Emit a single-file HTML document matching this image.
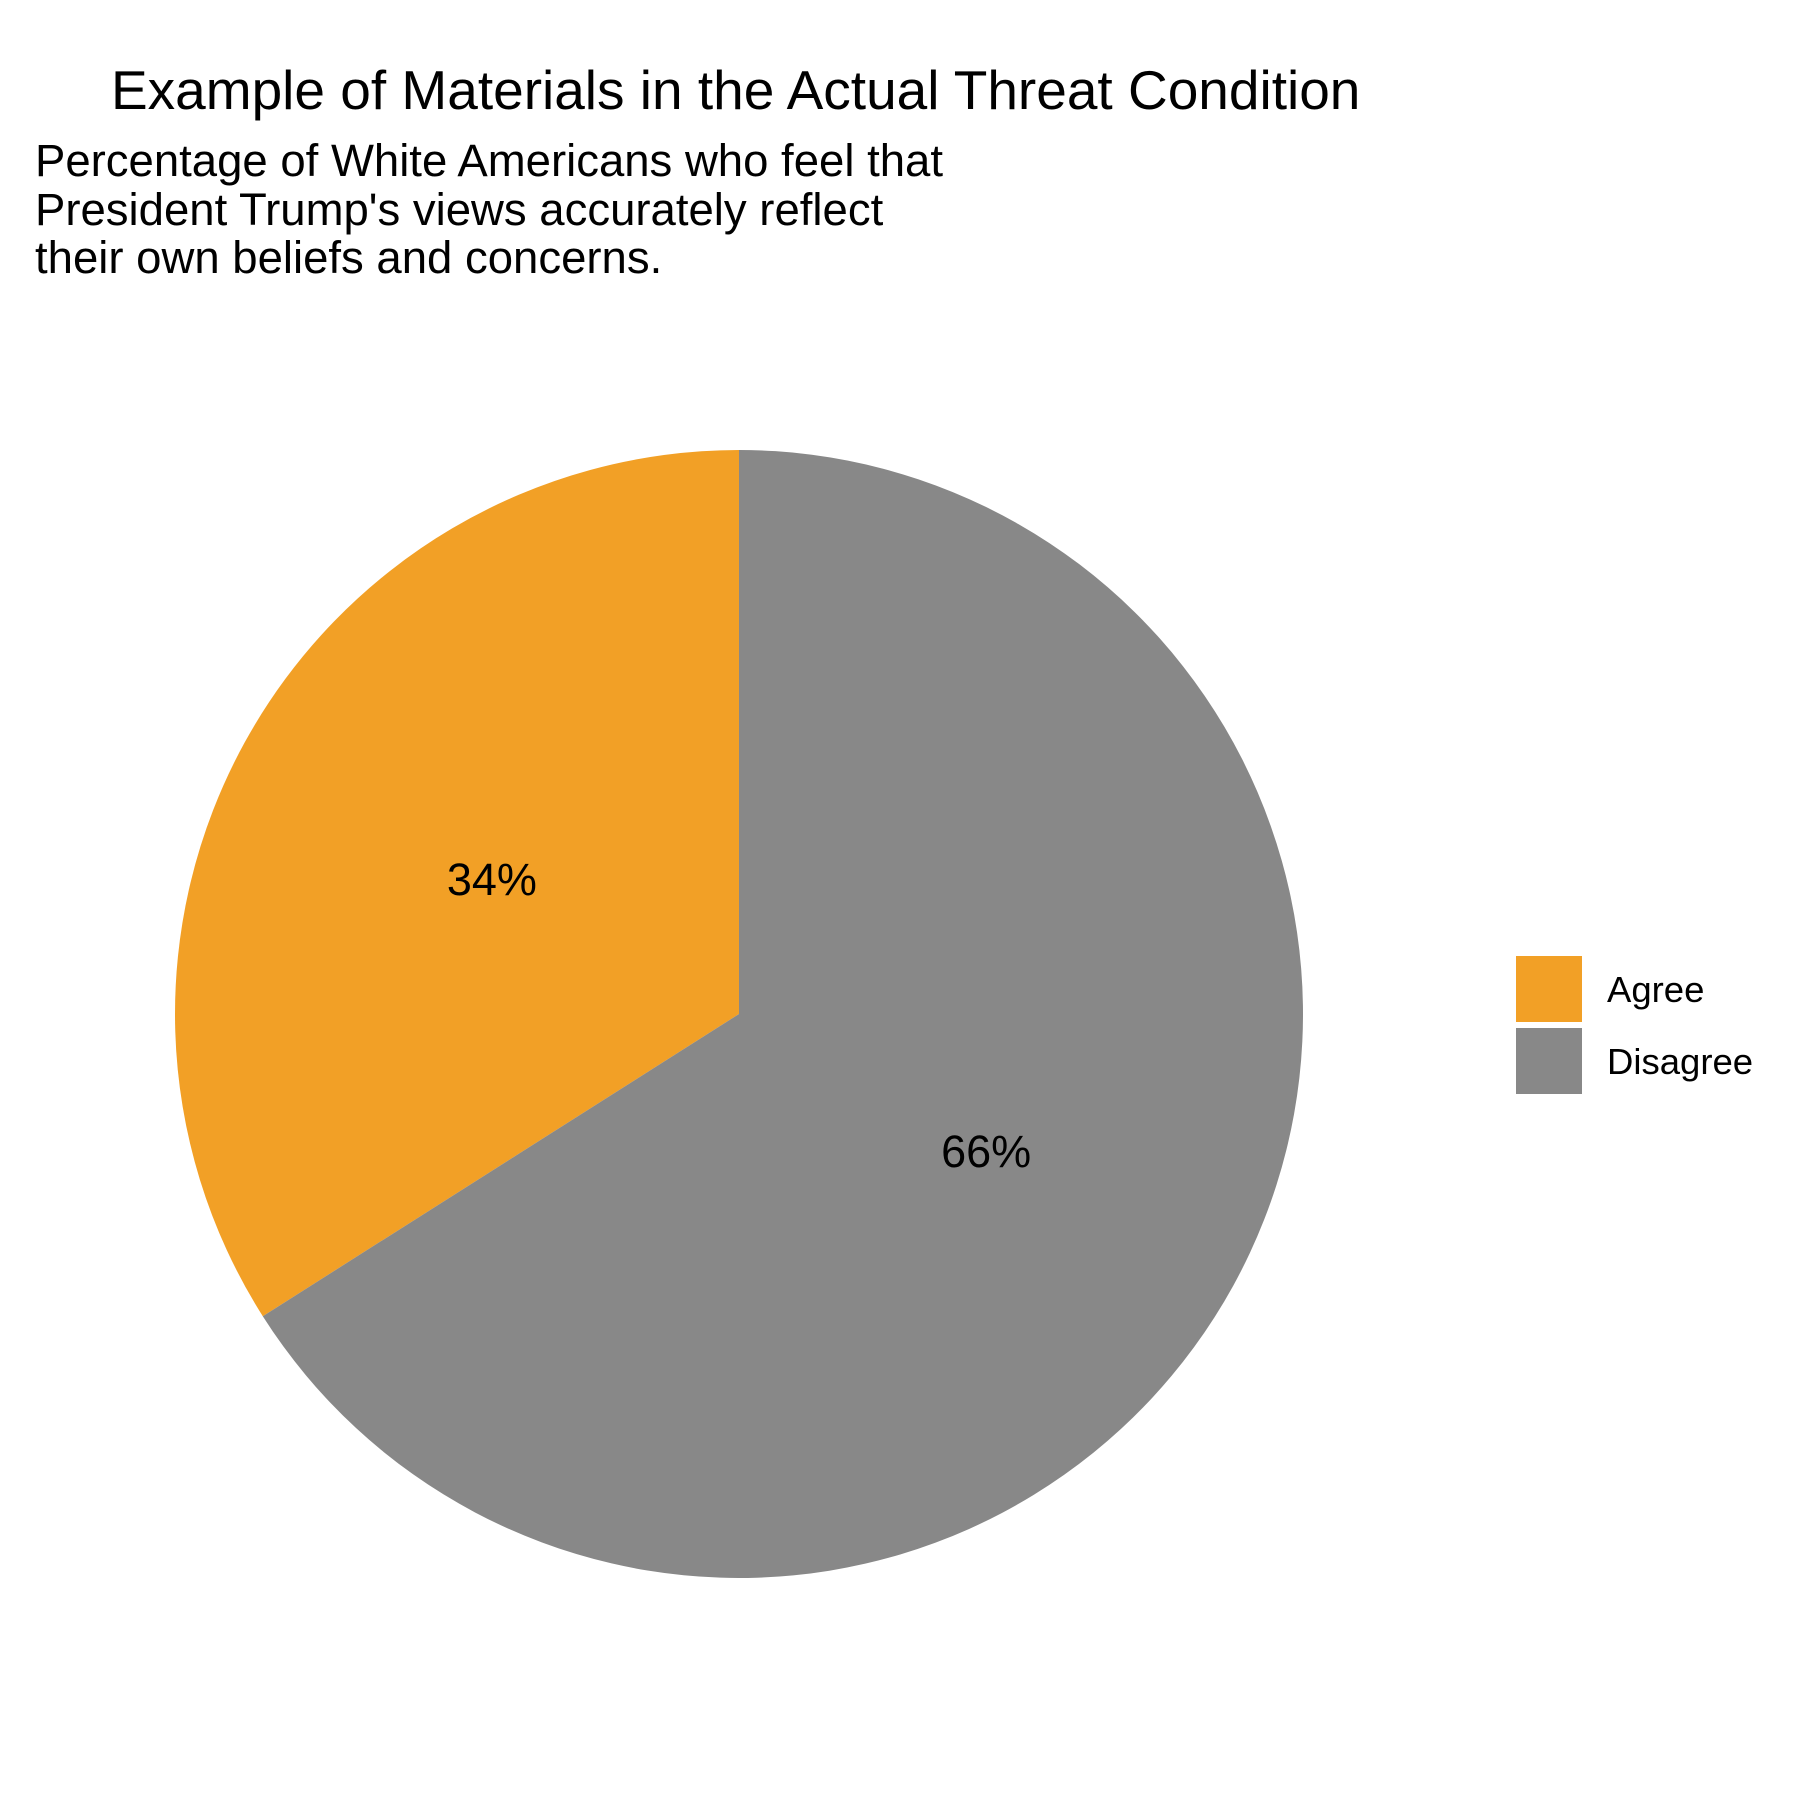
<!DOCTYPE html>
<html><head><meta charset="utf-8"><style>body{margin:0;background:#fff}svg{display:block}text{font-family:"Liberation Sans",Arial,sans-serif}</style></head>
<body>
<svg id="chart" width="1800" height="1800" viewBox="0 0 1800 1800">
<text x="111" y="109" font-size="55">Example of Materials in the Actual Threat Condition</text>
<g font-size="45.5">
<text x="35" y="176">Percentage of White Americans who feel that</text>
<text x="35" y="225">President Trump's views accurately reflect</text>
<text x="35" y="273">their own beliefs and concerns.</text>
</g>
<g id="slices"></g>
<g id="legend"></g>
</svg>
<script>
const categories = ["Agree", "Disagree"];
const values = [34, 66];
const labels = ["34%", "66%"];
const colors = ["#F2A026", "#888888"];
const cx = 739, cy = 1014, R = 564;
const NS = "http://www.w3.org/2000/svg";
const total = values.reduce((a, b) => a + b, 0);
const g = document.getElementById('slices');
function pt(a, r) { return [cx + r * Math.sin(a), cy - r * Math.cos(a)]; }
const frac0 = values[0] / total;
const spans = [[-frac0 * 2 * Math.PI, 0], [0, 2 * Math.PI - frac0 * 2 * Math.PI]];
categories.forEach((c, i) => {
  const [a0, a1] = spans[i];
  const p0 = pt(a0, R), p1 = pt(a1, R);
  const large = (a1 - a0) > Math.PI ? 1 : 0;
  const path = document.createElementNS(NS, 'path');
  path.setAttribute('d', `M${cx},${cy} L${p0[0]},${p0[1]} A${R},${R} 0 ${large} 1 ${p1[0]},${p1[1]} Z`);
  path.setAttribute('fill', colors[i]);
  
  
  g.appendChild(path);
  const m = (a0 + a1) / 2;
  const lp = pt(m, R * 0.5);
  const t = document.createElementNS(NS, 'text');
  t.setAttribute('x', lp[0]); t.setAttribute('y', lp[1] + 17);
  t.setAttribute('text-anchor', 'middle'); t.setAttribute('font-size', '45');
  t.textContent = labels[i];
  
  
  g.appendChild(t);
});
const lg = document.getElementById('legend');
categories.forEach((c, i) => {
  const r = document.createElementNS(NS, 'rect');
  r.setAttribute('x', 1516); r.setAttribute('y', 956 + i * 72);
  r.setAttribute('width', 66); r.setAttribute('height', 66);
  r.setAttribute('fill', colors[i]);
  
  
  lg.appendChild(r);
  const t = document.createElementNS(NS, 'text');
  t.setAttribute('x', 1607); t.setAttribute('y', 1002 + i * 72);
  t.setAttribute('font-size', '36.5');
  t.textContent = c;
  
  
  lg.appendChild(t);
});
</script>
</body></html>
